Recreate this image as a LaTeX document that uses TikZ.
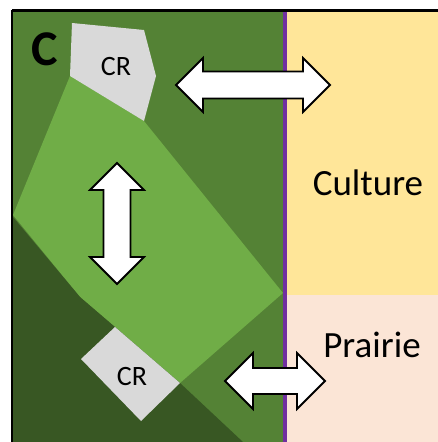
\documentclass[tikz,border=0pt]{standalone}
\usepackage{fontspec}
\setmainfont{Carlito}
\definecolor{midgreen}{HTML}{548235}
\definecolor{lightgreen}{HTML}{70AD47}
\definecolor{darkgreen}{HTML}{385723}
\definecolor{crgrey}{HTML}{D9D9D9}
\definecolor{culture}{HTML}{FFE699}
\definecolor{prairie}{HTML}{FBE5D6}
\definecolor{border}{HTML}{7030A0}
\tikzset{
  bigarrow/.style={draw=black, line width=1.8pt, fill=white, line join=miter},
  label/.style={inner sep=0pt, anchor=base, text=black},
}
\begin{document}
\begin{tikzpicture}[x=1pt, y=-1pt]
\useasboundingbox (0,0) rectangle (438,442);
% regions
\fill[midgreen] (12,11) rectangle (285,442);
\fill[culture] (285,11) rectangle (438,295);
\fill[prairie] (285,295) rectangle (438,442);
% light green zone
\fill[lightgreen] (70,76) -- (144,121) -- (283,293) -- (180,383) -- (115,327) -- (80,297) -- (13,215) -- cycle;
% dark green zone
\fill[darkgreen] (13,217) -- (80,297) -- (115,327) -- (180,383) -- (243,442) -- (13,442) -- cycle;
% CR patches
\fill[crgrey] (72,23) -- (144,30) -- (156,76) -- (144,121) -- (70,76) -- cycle;
\fill[crgrey] (115,327) -- (180,383) -- (141,421) -- (81,359) -- cycle;
% purple border
\draw[border, line width=3.5pt] (285,11) -- (285,442);
% frame
\draw[black, line width=2.5pt] (12,10.5) -- (438,10.5);
\draw[black, line width=2pt] (12,10) -- (12,442);
% arrows
\draw[bigarrow] (176,85) -- (203,58) -- (203,71.5) -- (303,71.5) -- (303,58) -- (330,85) -- (303,112) -- (303,98.5) -- (203,98.5) -- (203,112) -- cycle;
\draw[bigarrow] (117,163) -- (144,190) -- (130.5,190) -- (130.5,257) -- (144,257) -- (117,284) -- (90,257) -- (103.5,257) -- (103.5,190) -- (90,190) -- cycle;
\draw[bigarrow] (225,381) -- (253,353) -- (253,368) -- (297,368) -- (297,353) -- (325,381) -- (297,409) -- (297,394) -- (253,394) -- (253,409) -- cycle;
% labels
\node[label, font=\bfseries\fontsize{50}{50}\selectfont] (c) at (45,65) {C};
\node[label, font=\fontsize{28}{28}\selectfont] (cr1) at (116,75) {CR};
\node[label, font=\fontsize{28}{28}\selectfont] (cr2) at (132,385) {CR};
\node[label, font=\fontsize{37}{37}\selectfont] (cult) at (368,195) {Culture};
\node[label, font=\fontsize{37}{37}\selectfont] (prai) at (372,357) {Prairie};
\end{tikzpicture}
\end{document}
